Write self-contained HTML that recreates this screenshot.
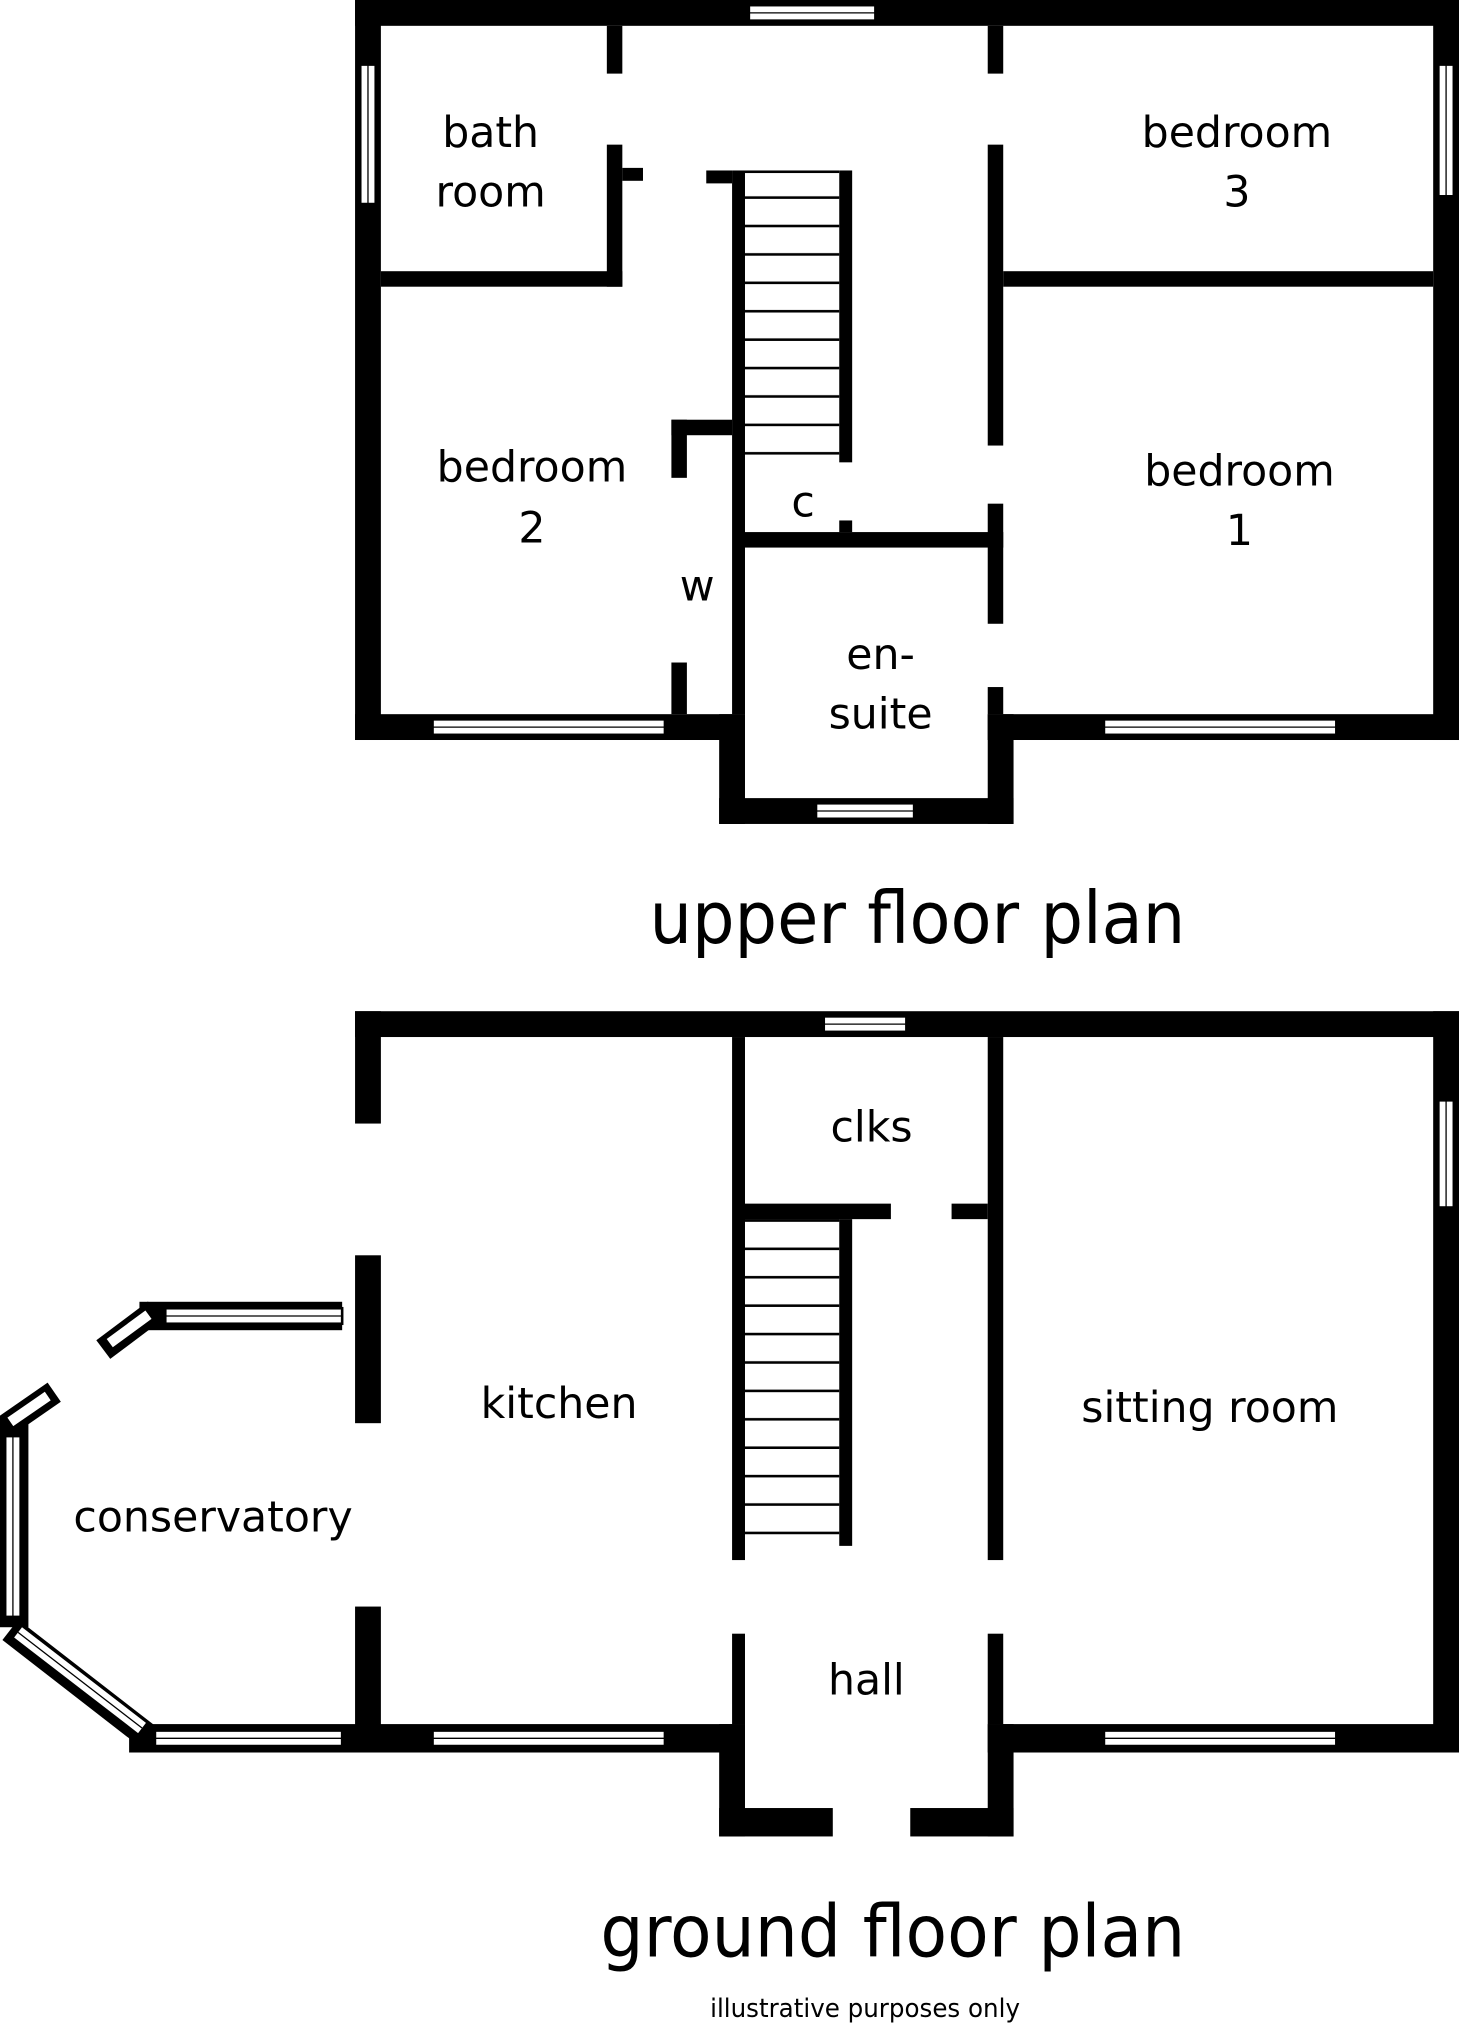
<!DOCTYPE html>
<html><head><meta charset="utf-8"><style>
html,body{margin:0;padding:0;background:#fff;}
svg{display:block;}
text{font-family:"DejaVu Sans","Liberation Sans",sans-serif;fill:#000;}
</style></head><body>
<svg width="1459" height="2025" viewBox="0 0 1130 1568" xmlns="http://www.w3.org/2000/svg" preserveAspectRatio="none">
<defs>
<pattern id="st" width="10" height="22" patternUnits="userSpaceOnUse"><rect y="20" width="10" height="2" fill="#000"/></pattern>
</defs>
<g fill="#000">
<rect x="275" y="0" width="855" height="20"/>
<rect x="275" y="0" width="20" height="573"/>
<rect x="1110" y="0" width="20" height="573"/>
<rect x="275" y="553" width="302" height="20"/>
<rect x="557" y="553" width="20" height="85"/>
<rect x="557" y="618" width="228" height="20"/>
<rect x="765" y="553" width="20" height="85"/>
<rect x="765" y="553" width="365" height="20"/>
<rect x="295" y="210" width="187" height="12"/>
<rect x="470" y="112" width="12" height="110"/>
<rect x="482" y="130" width="16" height="10"/>
<rect x="470" y="20" width="12" height="37"/>
<rect x="777" y="210" width="333" height="12"/>
<rect x="765" y="20" width="12" height="37"/>
<rect x="765" y="112" width="12" height="233"/>
<rect x="765" y="390" width="12" height="93"/>
<rect x="765" y="532" width="12" height="21"/>
<rect x="567" y="132" width="10" height="421"/>
<rect x="547" y="132" width="20" height="10"/>
<rect x="650" y="132" width="10" height="226"/>
<rect x="577" y="132" width="73" height="2"/>
<rect x="520" y="325" width="47" height="12"/>
<rect x="520" y="325" width="12" height="45"/>
<rect x="520" y="513" width="12" height="40"/>
<rect x="577" y="412" width="200" height="12"/>
<rect x="650" y="403" width="10" height="9"/>

<rect x="275" y="783" width="855" height="20"/>
<rect x="275" y="783" width="20" height="87"/>
<rect x="275" y="972" width="20" height="130"/>
<rect x="275" y="1244" width="20" height="113"/>
<rect x="1110" y="783" width="20" height="574"/>
<rect x="100" y="1335" width="477" height="22"/>
<rect x="557" y="1335" width="20" height="87"/>
<rect x="557" y="1400" width="88" height="22"/>
<rect x="765" y="1335" width="20" height="87"/>
<rect x="705" y="1400" width="80" height="22"/>
<rect x="765" y="1335" width="365" height="22"/>
<rect x="567" y="803" width="10" height="405"/>
<rect x="765" y="803" width="12" height="405"/>
<rect x="567" y="1265" width="10" height="70"/>
<rect x="765" y="1265" width="12" height="70"/>
<rect x="577" y="932" width="113" height="12"/>
<rect x="737" y="932" width="28" height="12"/>
<rect x="650" y="944" width="10" height="253"/>
<rect x="108" y="1008" width="157" height="22"/>
<rect x="0" y="1098" width="22" height="162"/>
</g>
<rect x="577" y="134" width="73" height="224" fill="url(#st)"/>
<rect x="577" y="944" width="73" height="253" fill="url(#st)"/>
<rect x="577" y="944" width="73" height="2" fill="#000"/>
<g fill="#fff" stroke="#000" stroke-width="2">
<rect x="580" y="4" width="98" height="12"/>
<rect x="279" y="50" width="12" height="108"/>
<rect x="1114" y="50" width="12" height="102"/>
<rect x="335" y="557" width="180" height="12"/>
<rect x="855" y="557" width="180" height="12"/>
<rect x="632" y="622" width="76" height="12"/>
<rect x="638" y="787" width="64" height="12"/>
<rect x="1114" y="852" width="12" height="83"/>
<rect x="120" y="1340" width="145" height="12"/>
<rect x="335" y="1340" width="180" height="12"/>
<rect x="855" y="1340" width="180" height="12"/>
<rect x="128" y="1013" width="137" height="12"/>
<rect x="4" y="1112" width="12" height="140"/>
</g>
<g stroke="#000" stroke-width="1">
<line x1="580" y1="10" x2="678" y2="10"/><line x1="285" y1="50" x2="285" y2="158"/>
<line x1="1120" y1="50" x2="1120" y2="152"/><line x1="335" y1="563" x2="515" y2="563"/>
<line x1="855" y1="563" x2="1035" y2="563"/><line x1="632" y1="628" x2="708" y2="628"/>
<line x1="638" y1="793" x2="702" y2="793"/><line x1="1120" y1="852" x2="1120" y2="935"/>
<line x1="120" y1="1346" x2="265" y2="1346"/><line x1="335" y1="1346" x2="515" y2="1346"/>
<line x1="855" y1="1346" x2="1035" y2="1346"/><line x1="128" y1="1019" x2="265" y2="1019"/>
<line x1="10" y1="1112" x2="10" y2="1252"/>
</g>
<g>
<line x1="8" y1="1262" x2="115" y2="1345" stroke="#000" stroke-width="20"/>
<line x1="14" y1="1264" x2="110" y2="1338" stroke="#fff" stroke-width="10"/>
<line x1="14" y1="1264" x2="110" y2="1338" stroke="#000" stroke-width="1"/>
<line x1="80" y1="1045" x2="120" y2="1015" stroke="#000" stroke-width="18"/>
<line x1="85" y1="1040" x2="115" y2="1018" stroke="#fff" stroke-width="8"/>
<line x1="3" y1="1105" x2="42" y2="1078" stroke="#000" stroke-width="18"/>
<line x1="8" y1="1101" x2="37" y2="1081" stroke="#fff" stroke-width="8"/>
</g>
<g font-size="33" text-anchor="middle">
<text x="380" y="114">bath</text><text x="380" y="160">room</text>
<text x="958" y="114">bedroom</text><text x="958" y="160">3</text>
<text x="412" y="373">bedroom</text><text x="412" y="420">2</text>
<text x="960" y="376">bedroom</text><text x="960" y="422">1</text>
<text x="622" y="400">c</text>
<text x="540" y="465">w</text>
<text x="682" y="518">en-</text><text x="682" y="564">suite</text>
<text x="675" y="884">clks</text>
<text x="433" y="1098">kitchen</text>
<text x="937" y="1101">sitting room</text>
<text x="165" y="1186">conservatory</text>
<text x="671" y="1312">hall</text>
</g>
<text x="503" y="730" font-size="56" textLength="415" lengthAdjust="spacingAndGlyphs">upper floor plan</text>
<text x="465" y="1515" font-size="56" textLength="453" lengthAdjust="spacingAndGlyphs">ground floor plan</text>
<text x="550" y="1562" font-size="20" textLength="240" lengthAdjust="spacingAndGlyphs">illustrative purposes only</text>
</svg>
</body></html>
